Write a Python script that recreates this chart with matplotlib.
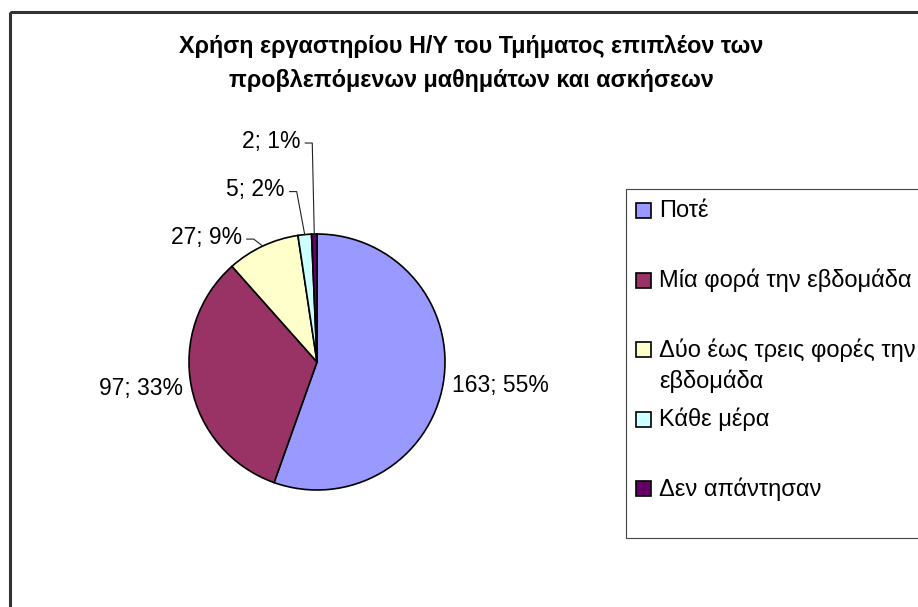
import numpy as np
import matplotlib.pyplot as plt
from matplotlib.patches import Rectangle

plt.rcParams['font.family'] = ['Liberation Sans', 'DejaVu Sans']

title_lines = ['Χρήση εργαστηρίου Η/Υ του Τμήματος επιπλέον των',
               'προβλεπόμενων μαθημάτων και ασκήσεων']
categories = ['Ποτέ', 'Μία φορά την εβδομάδα', 'Δύο έως τρεις φορές την\nεβδομάδα',
              'Κάθε μέρα', 'Δεν απάντησαν']
counts = [163, 97, 27, 5, 2]
colors = ['#9999FF', '#993366', '#FFFFCC', '#CCFFFF', '#660066']

W, H = 918, 607
fig = plt.figure(figsize=(W / 100, H / 100), dpi=100)
ax = fig.add_axes([0, 0, 1, 1])

cx, cy, r = 317, 362, 128
wedges, _ = ax.pie(counts, colors=colors, center=(cx, cy), radius=r,
                   startangle=-90, counterclock=True, frame=True,
                   wedgeprops=dict(edgecolor='black', linewidth=1.2))

# work in pixel coords, y pointing down
ax.set_xlim(0, W)
ax.set_ylim(H, 0)
ax.set_aspect('equal')
ax.axis('off')

total = sum(counts)
# (dx, dy) from slice edge to the label's right end, only for the crowded small slices
moved = {2: (-21, -9), 3: (-20, -45), 4: (-14, -93)}
for i, w in enumerate(wedges):
    mid = np.deg2rad((w.theta1 + w.theta2) / 2)
    txt = '%d; %d%%' % (counts[i], round(100 * counts[i] / total))
    ex, ey = cx + r * np.cos(mid), cy + r * np.sin(mid)
    if i in moved:
        tx, ty = ex + moved[i][0], ey + moved[i][1]
        ax.text(tx, ty, txt, ha='right', va='center', fontsize=16.5)
        ax.plot([tx + 5, tx + 12, ex], [ty + 2, ty + 2, ey], color='#222222', lw=0.8)
    else:
        rr = r * 1.07
        x, y = cx + rr * np.cos(mid), cy + rr * np.sin(mid)
        ax.text(x, y, txt, ha='left' if np.cos(mid) > 0 else 'right', va='center',
                fontsize=16.5)

# title
ax.text(471, 46.5, title_lines[0], ha='center', va='center', fontsize=16.8, fontweight='bold')
ax.text(471, 81, title_lines[1], ha='center', va='center', fontsize=16.8, fontweight='bold')

# legend box, drawn by hand to keep Excel's spacing
ax.add_patch(Rectangle((626, 189), 400, 349, facecolor='white', edgecolor='#444444', lw=0.8))
for i, lab in enumerate(categories):
    y0 = 211 + i * 69.5
    ax.add_patch(Rectangle((636, y0 - 8), 15, 15, facecolor=colors[i],
                           edgecolor='black', lw=1.2))
    for k, line in enumerate(lab.split('\n')):
        ax.text(659, y0 + k * 31, line, ha='left', va='center', fontsize=17)

# chart border
ax.add_patch(Rectangle((10, 12), 1000, 700, fill=False, edgecolor='#333333', lw=2.2))

fig.savefig('out.png', dpi=100)
